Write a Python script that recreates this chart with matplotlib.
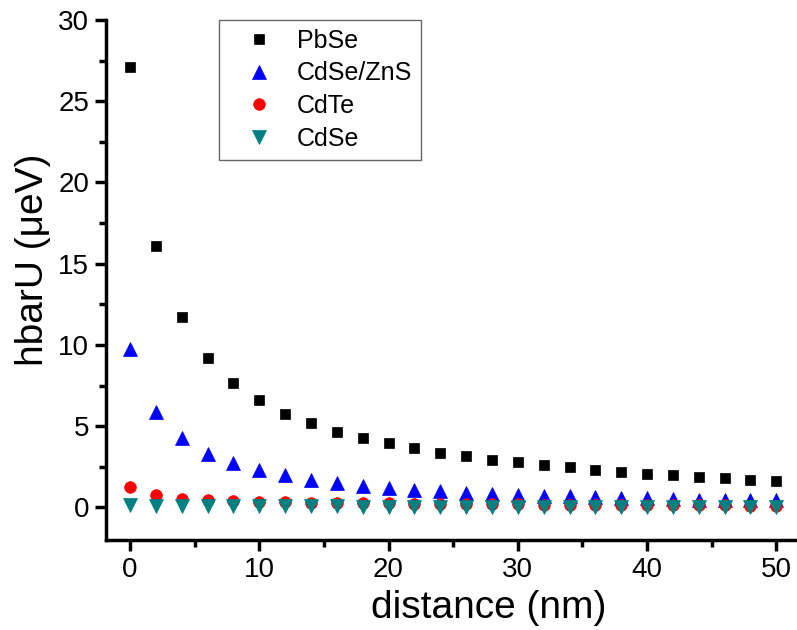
import numpy as np
import matplotlib
matplotlib.use("Agg")
import matplotlib.pyplot as plt
from matplotlib.ticker import MultipleLocator

plt.rcParams['font.family'] = ['Liberation Sans', 'DejaVu Sans']

# distance (nm)
distance = np.arange(0, 51, 2)

# hbarU (ueV)
pbse = [27.1, 16.1, 11.7, 9.22, 7.69, 6.6, 5.78, 5.17, 4.66, 4.29, 3.94, 3.65, 3.35,
        3.14, 2.93, 2.77, 2.61, 2.46, 2.32, 2.2, 2.07, 1.97, 1.89, 1.79, 1.70, 1.62]
cdse_zns = [9.76, 5.9, 4.27, 3.32, 2.71, 2.3, 1.97, 1.68, 1.5, 1.32, 1.21, 1.09, 0.99,
            0.92, 0.84, 0.78, 0.72, 0.68, 0.64, 0.59, 0.57, 0.54, 0.49, 0.47, 0.45, 0.43]
cdte = [1.25, 0.74, 0.53, 0.45, 0.40, 0.35, 0.32, 0.29, 0.27, 0.26, 0.25, 0.23, 0.22,
        0.21, 0.20, 0.19, 0.18, 0.17, 0.16, 0.15, 0.15, 0.14, 0.13, 0.13, 0.12, 0.12]
cdse = [0.15, 0.12, 0.10, 0.09, 0.08, 0.07, 0.07, 0.06, 0.06, 0.05, 0.05, 0.05, 0.04,
        0.04, 0.04, 0.04, 0.03, 0.03, 0.03, 0.03, 0.03, 0.03, 0.02, 0.02, 0.02, 0.02]

fig = plt.figure(figsize=(7.97, 6.30), dpi=100)
ax = fig.add_axes([0.133, 0.1429, 0.867, 0.8254])

ax.plot(distance, pbse, 's', color='black', ms=7.2, mew=0.5, label='PbSe')
ax.plot(distance, cdse_zns, '^', color='#0000ff', ms=9.4, mew=0.5, label='CdSe/ZnS')
ax.plot(distance, cdte, 'o', color='#ff0000', ms=8.4, mew=0.5, label='CdTe')
ax.plot(distance, cdse, 'v', color='#008080', ms=9.4, mew=0.5, label='CdSe')

ax.set_xlim(-1.86, 51.6)
ax.set_ylim(-2, 30)

for s in ['top', 'right']:
    ax.spines[s].set_visible(False)
for s in ['left', 'bottom']:
    ax.spines[s].set_linewidth(2.5)

ax.xaxis.set_major_locator(MultipleLocator(10))
ax.xaxis.set_minor_locator(MultipleLocator(5))
ax.yaxis.set_major_locator(MultipleLocator(5))
ax.yaxis.set_minor_locator(MultipleLocator(2.5))
ax.tick_params(which='major', direction='out', length=8, width=2.5, labelsize=20, pad=4)
ax.tick_params(which='minor', direction='out', length=5, width=2.5)

ax.set_xlabel('distance (nm)', fontsize=28, labelpad=5)
ax.set_ylabel('hbarU (\u03bceV)', fontsize=28, labelpad=5)
# labels sit off-centre in the original
ax.xaxis.label.set_x(0.554)
ax.yaxis.label.set_y(0.538)

leg = ax.legend(loc='upper left', bbox_to_anchor=(0.1635, 1.0), fontsize=18,
                fancybox=False, framealpha=1, edgecolor='#666666',
                handletextpad=0.26, labelspacing=0.35, borderpad=0.35,
                borderaxespad=0, handlelength=2.5)
leg.get_frame().set_linewidth(1.0)

fig.savefig('out.png', dpi=100)
